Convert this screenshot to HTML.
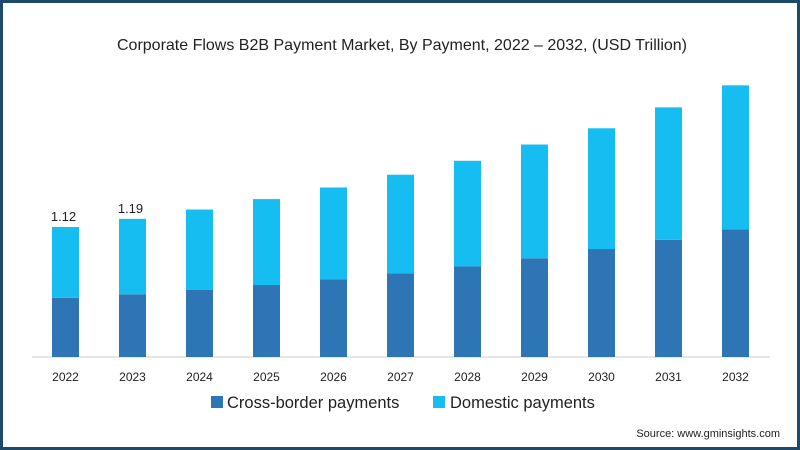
<!DOCTYPE html>
<html><head><meta charset="utf-8"><style>
html,body{margin:0;padding:0;background:#fff}
#frame{position:relative;width:800px;height:450px;box-sizing:border-box;border:3px solid #1d4a6b;background:#fff;font-family:"Liberation Sans",sans-serif;overflow:hidden}
svg{position:absolute;left:-3px;top:-3px}
</style></head><body>
<div id="frame">
<svg id="chart" width="800" height="450">
<text x="402" y="50" text-anchor="middle" font-size="16" fill="#222">Corporate Flows B2B Payment Market, By Payment, 2022 – 2032, (USD Trillion)</text>
<line x1="32" y1="357" x2="770" y2="357" stroke="#ccc" stroke-width="1"/>
<g id="bars"></g>
<g>
<rect x="211" y="396" width="12" height="12" fill="#2e75b6"/>
<text x="227" y="408" font-size="16.5" fill="#222">Cross-border payments</text>
<rect x="433" y="396" width="12" height="12" fill="#16bdf0"/>
<text x="450" y="408" font-size="16.5" fill="#222">Domestic payments</text>
</g>
<text x="780" y="437" text-anchor="end" font-size="11" fill="#222">Source: www.gminsights.com</text>
</svg>
</div>
<script>
const years = ["2022","2023","2024","2025","2026","2027","2028","2029","2030","2031","2032"];
const crossBorder = [0.51,0.54,0.58,0.62,0.67,0.72,0.78,0.85,0.93,1.01,1.10];
const domestic = [0.61,0.65,0.69,0.74,0.79,0.85,0.91,0.98,1.04,1.14,1.24];
const valueLabels = ["1.12","1.19","","","","","","","","",""];

const NS="http://www.w3.org/2000/svg";
const baseY=357, pxPerUnit=116.1, x0=65.5, step=67, bw=27;
function xScale(i){return x0+step*i;}
function yScale(v){return baseY-v*pxPerUnit;}
const g=document.getElementById('bars');
function mk(tag,attrs){const e=document.createElementNS(NS,tag);for(const k in attrs)e.setAttribute(k,attrs[k]);return e;}
years.forEach((yr,i)=>{
  const cx=xScale(i);
  const c=crossBorder[i], d=domestic[i];
  const r1=mk('rect',{x:cx-bw/2,y:yScale(c),width:bw,height:baseY-yScale(c),fill:'#2e75b6'});
  
  
  g.appendChild(r1);
  const r2=mk('rect',{x:cx-bw/2,y:yScale(c+d),width:bw,height:yScale(c)-yScale(c+d),fill:'#16bdf0'});
  
  
  g.appendChild(r2);
  const t=mk('text',{x:cx,y:381,'text-anchor':'middle','font-size':'12',fill:'#222'});
  t.textContent=yr;
  
  
  g.appendChild(t);
  if(valueLabels[i]){
    const v=mk('text',{x:cx-2,y:yScale(c+d)-6,'text-anchor':'middle','font-size':'13',fill:'#222'});
    v.textContent=valueLabels[i];
    
    
    g.appendChild(v);
  }
});
</script>
</body></html>
